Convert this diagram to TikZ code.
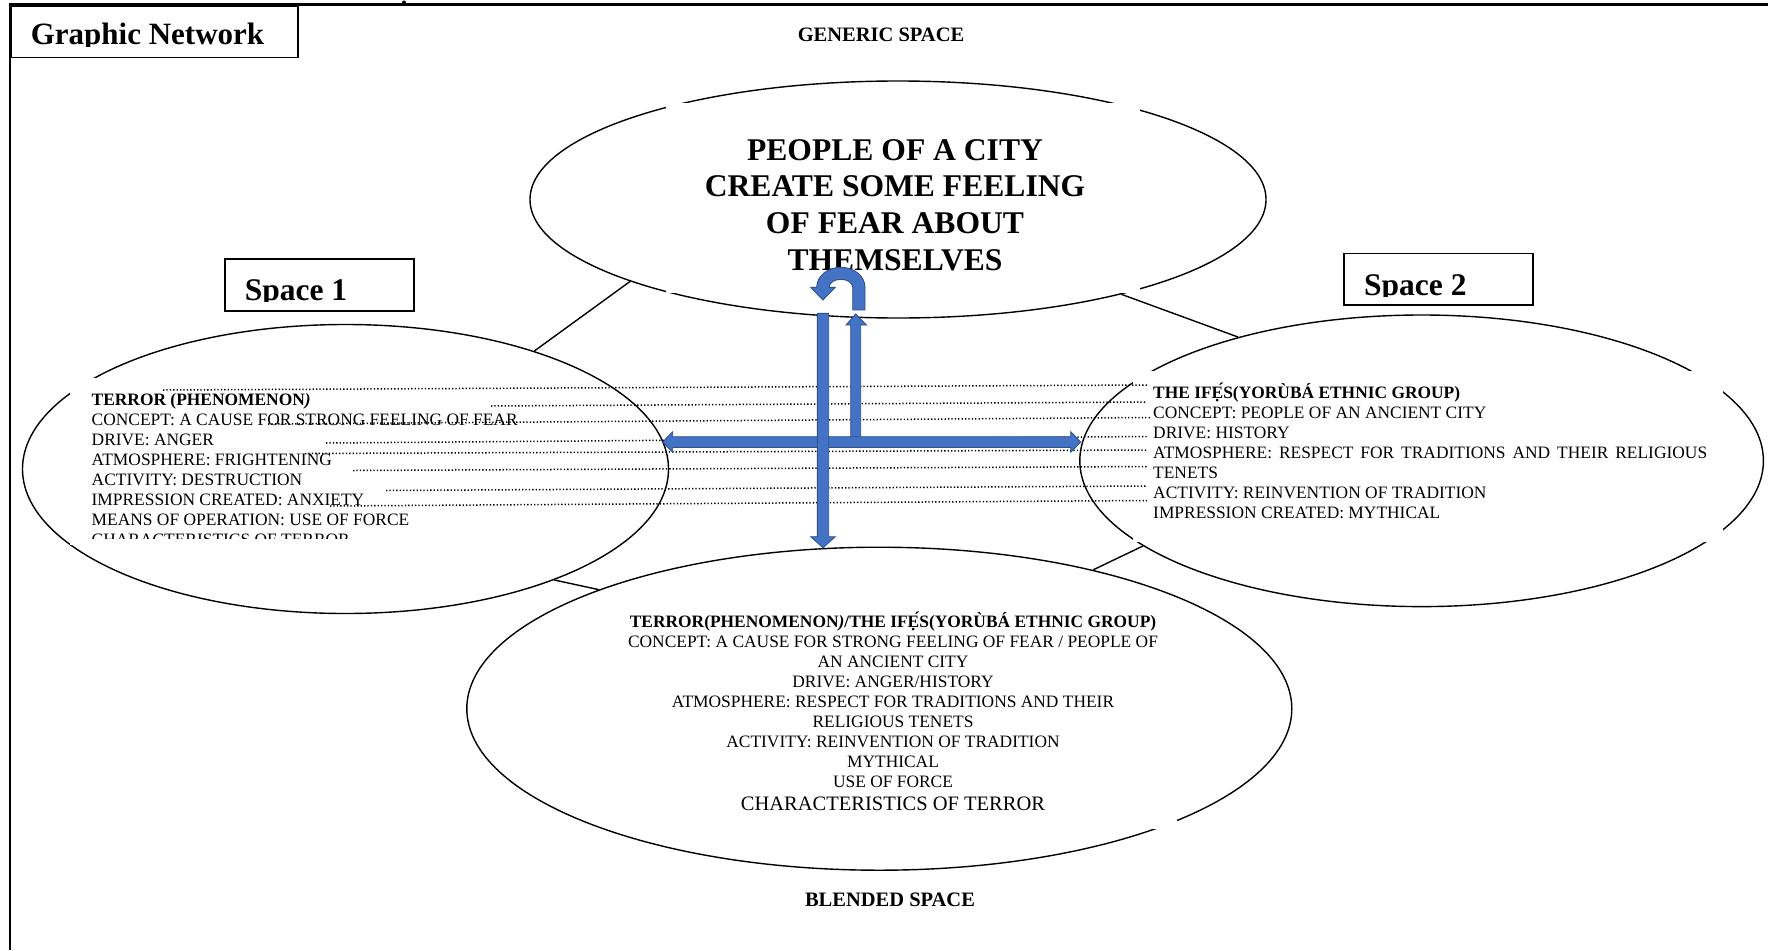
\documentclass[tikz,border=0pt]{standalone}
\usepackage{fontspec}
\setmainfont{Liberation Serif}
\usetikzlibrary{shapes.geometric}

\definecolor{arrowfill}{HTML}{4472C4}
\definecolor{arrowedge}{HTML}{2F528F}

% stacked lines: first baseline is the box baseline
\newcommand\leftlines[1]{\vtop{\lineskiplimit=-\maxdimen\halign{##\hfil\cr#1\crcr}}}
\newcommand\centrelines[1]{\vtop{\lineskiplimit=-\maxdimen\halign{\hfil##\hfil\cr#1\crcr}}}
\newcommand\smalltext{\fontsize{17.4}{20}\selectfont}

\tikzset{
  space/.style={ellipse, draw, line width=1.4pt, inner sep=0pt},
  link/.style={line width=1.4pt},
  guide/.style={line width=1.5pt, dash pattern=on 1.3pt off 2.1pt},
  blockarrow/.style={fill=arrowfill, draw=arrowedge, line width=0.9pt, line join=miter},
  labelbox/.style={draw, line width=1.6pt, inner sep=0pt, anchor=north west},
  txt/.style={inner sep=0pt, anchor=base west},
  ctxt/.style={inner sep=0pt, anchor=base},
}

\begin{document}
\begin{tikzpicture}[x=1pt, y=-1pt]
\useasboundingbox (0,0) rectangle (1768,950);

% page frame
\draw[line width=2.7pt] (9.3,4.7) -- (1768,4.7);
\draw[line width=2pt] (10.3,3.4) -- (10.3,950);
\node[circle, fill, inner sep=0pt, minimum size=4pt] (tick) at (404,2.5) {};

% the four mental spaces
\node[space, minimum width=736pt, minimum height=237pt] (gen) at (898,199.5) {};
\node[space, minimum width=646pt, minimum height=289pt] (sp1) at (345.5,469) {};
\node[space, minimum width=683.6pt, minimum height=291.6pt] (sp2) at (1421.6,460.8) {};
\node[space, minimum width=825pt, minimum height=323pt] (blend) at (879.3,708.7) {};

% white text panels laid over the outlines
\fill[white] (666,102.6) rectangle (1140,292.5);
\fill[white] (70,378) rectangle (560,545);
\fill[white] (1133,371) rectangle (1723,542);
\fill[white] (609,600) rectangle (1177,829);

% generic space text
\node[ctxt, font=\bfseries\fontsize{31.6}{36.7}\selectfont] (gentext) at (895,160)
  {\centrelines{PEOPLE OF A CITY\cr CREATE SOME FEELING\cr OF FEAR ABOUT\cr THEMSELVES}};

% input space 1 text (cut off at the panel margin)
\begin{scope}
  \clip (70,378) rectangle (560,538.5);
  \node[txt, font=\smalltext] (sp1text) at (91.5,405)
    {\leftlines{\textbf{TERROR (PHENOMENON\textit{)}}\cr
      CONCEPT: A CAUSE FOR STRONG FEELING OF FEAR\cr
      DRIVE: ANGER\cr
      ATMOSPHERE: FRIGHTENING\cr
      ACTIVITY: DESTRUCTION\cr
      IMPRESSION CREATED: ANXIETY\cr
      MEANS OF OPERATION: USE OF FORCE\cr
      CHARACTERISTICS OF TERROR}};
\end{scope}

% input space 2 text
\node[txt, font=\smalltext] (sp2text) at (1153,398)
  {\leftlines{\textbf{THE IFẸ́S(YORÙBÁ ETHNIC GROUP)}\cr
    CONCEPT: PEOPLE OF AN ANCIENT CITY\cr
    DRIVE: HISTORY\cr
    \makebox[554pt][s]{ATMOSPHERE: RESPECT FOR TRADITIONS AND THEIR RELIGIOUS}\cr
    TENETS\cr
    ACTIVITY: REINVENTION OF TRADITION\cr
    IMPRESSION CREATED: MYTHICAL}};

% blended space text
\node[ctxt, font=\smalltext] (blendtext) at (893,627)
  {\centrelines{\textbf{TERROR(PHENOMENON\textit{)}/THE IFẸ́S(YORÙBÁ ETHNIC GROUP)}\cr
    CONCEPT: A CAUSE FOR STRONG FEELING OF FEAR / PEOPLE OF\cr
    AN ANCIENT CITY\cr
    DRIVE: ANGER/HISTORY\cr
    ATMOSPHERE: RESPECT FOR TRADITIONS AND THEIR\cr
    RELIGIOUS TENETS\cr
    ACTIVITY: REINVENTION OF TRADITION\cr
    MYTHICAL\cr
    USE OF FORCE\cr
    \noalign{\vskip3pt}
    \fontsize{20.5}{24}\selectfont CHARACTERISTICS OF TERROR}};

% dotted cross-space mappings
\draw[guide] (163,390) -- (1147,385);
\draw[guide] (491,406) -- (1147,402);
\draw[guide] (268,424) -- (1150,417.5);
\draw[guide] (326,443) -- (1147,436.5);
\draw[guide] (305,453.5) -- (1147,450);
\draw[guide] (353,470.5) -- (1147,466.5);
\draw[guide] (386,490.5) -- (1147,486);
\draw[guide] (330,506) -- (1147,500.5);

% projection arrows
\draw[blockarrow] (850.7,441) -- (850.7,325) -- (846,325) -- (855.7,314) -- (866.4,325)
  -- (860.7,325) -- (860.7,441) -- cycle;
\draw[blockarrow] (662.7,442) -- (672.7,431.7) -- (672.7,436.7) -- (1070.7,436.7)
  -- (1070.7,431.7) -- (1080.7,442) -- (1070.7,452.3) -- (1070.7,447.3)
  -- (672.7,447.3) -- (672.7,452.3) -- cycle;
\draw[blockarrow] (817.3,313.3) -- (828.7,313.3) -- (828.7,536.7) -- (835.3,536.7)
  -- (823,547.7) -- (810.7,536.7) -- (817.3,536.7) -- cycle;
\draw[blockarrow] (852.7,310) -- (865,310) -- (865,287.3)
  arc[start angle=0, end angle=180, x radius=24.15pt, y radius=20pt]
  -- (810.7,287.3) -- (822.9,300) -- (835.3,287.3) -- (829,287.3)
  arc[start angle=180, end angle=0, x radius=11.85pt, y radius=8pt] -- cycle;

% links between the spaces
\draw[link] (gen.197.6) -- (sp1.32.5);
\draw[link] (gen.337.4) -- (sp2.146.25);
\draw[link] (sp1.332.5) -- (blend.157.15);
\draw[link] (sp2.197.5) -- (blend.33.2);

% headings
\node[ctxt, font=\bfseries\fontsize{20.5}{24}\selectfont] (generic) at (881,41.7) {GENERIC SPACE};
\node[ctxt, font=\bfseries\fontsize{20.5}{24}\selectfont] (blended) at (890,906) {BLENDED SPACE};

% labelled boxes (text clipped at the box margin)
\node[labelbox, minimum width=287pt, minimum height=51pt] (titlebox) at (10,5.7) {};
\begin{scope}
  \clip (10,5.7) rectangle (297,46.5);
  \node[txt, font=\bfseries\fontsize{31}{36}\selectfont] (title) at (30.6,45) {Graphic Network};
\end{scope}
\node[labelbox, minimum width=189pt, minimum height=52pt] (box1) at (224,258) {};
\begin{scope}
  \clip (224,258) rectangle (413,301);
  \node[txt, font=\bfseries\fontsize{31.5}{36}\selectfont] (label1) at (244.6,300) {Space 1};
\end{scope}
\node[labelbox, minimum width=189pt, minimum height=51.3pt] (box2) at (1343,252.7) {};
\begin{scope}
  \clip (1343,252.7) rectangle (1532,296);
  \node[txt, font=\bfseries\fontsize{31.5}{36}\selectfont] (label2) at (1364,295) {Space 2};
\end{scope}
\end{tikzpicture}
\end{document}
